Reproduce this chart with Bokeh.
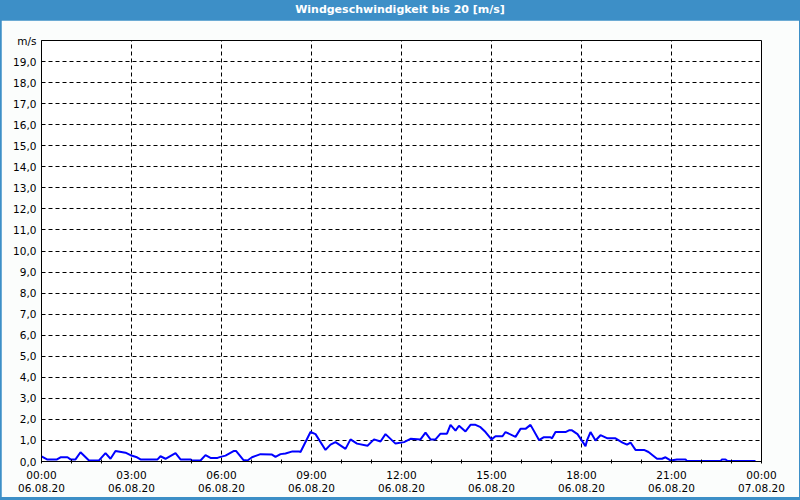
from datetime import datetime, timedelta
from bokeh.plotting import figure
from bokeh.models import (ColumnDataSource, FixedTicker, DatetimeTickFormatter,
                          Range1d, Div)
from bokeh.layouts import column
from bokeh.embed import file_html
from bokeh.resources import INLINE

TITLE = "Windgeschwindigkeit bis 20 [m/s]"
DAY = "2020-08-06"
times = ["00:00", "00:11", "00:31", "00:38", "00:52", "00:58", "01:08", "01:18", "01:35", "01:55",
         "02:08", "02:18", "02:28", "02:48", "02:58", "03:11", "03:18", "03:52", "03:58", "04:08",
         "04:28", "04:38", "04:58", "05:01", "05:18", "05:28", "05:38", "05:52", "05:58", "06:08",
         "06:25", "06:29", "06:44", "06:52", "07:01", "07:18", "07:41", "07:48", "07:58", "08:08",
         "08:22", "08:35", "08:38", "08:58", "09:08", "09:28", "09:38", "09:48", "10:08", "10:18",
         "10:31", "10:52", "11:05", "11:18", "11:28", "11:48", "12:05", "12:18", "12:38", "12:48",
         "12:58", "13:08", "13:18", "13:31", "13:38", "13:48", "13:55", "14:08", "14:18", "14:28",
         "14:38", "14:48", "15:00", "15:08", "15:22", "15:28", "15:48", "15:58", "16:08", "16:18",
         "16:35", "16:44", "16:58", "17:01", "17:08", "17:28", "17:35", "17:41", "17:52", "18:08",
         "18:11", "18:18", "18:28", "18:38", "18:52", "19:08", "19:22", "19:31", "19:38", "19:48",
         "20:05", "20:14", "20:31", "20:41", "20:48", "20:58", "21:11", "21:28", "21:31", "22:38",
         "22:41", "22:48", "22:52", "23:48"]
speed = [0.24, 0.10, 0.10, 0.20, 0.20, 0.10, 0.10, 0.44, 0.05, 0.05,
         0.40, 0.13, 0.50, 0.42, 0.30, 0.20, 0.10, 0.10, 0.25, 0.13,
         0.40, 0.10, 0.10, 0.05, 0.05, 0.30, 0.17, 0.17, 0.22, 0.28,
         0.50, 0.50, 0.07, 0.05, 0.20, 0.35, 0.33, 0.22, 0.35, 0.38,
         0.48, 0.48, 0.45, 1.40, 1.30, 0.55, 0.80, 0.92, 0.60, 1.05,
         0.85, 0.75, 1.05, 0.95, 1.30, 0.85, 0.92, 1.08, 1.05, 1.37,
         1.05, 1.05, 1.32, 1.32, 1.74, 1.47, 1.70, 1.43, 1.74, 1.74,
         1.63, 1.40, 1.05, 1.20, 1.20, 1.40, 1.17, 1.55, 1.55, 1.74,
         1.02, 1.15, 1.15, 1.10, 1.40, 1.40, 1.48, 1.48, 1.30, 0.73,
         1.00, 1.40, 1.00, 1.25, 1.10, 1.10, 0.90, 0.80, 0.90, 0.55,
         0.55, 0.45, 0.13, 0.13, 0.20, 0.05, 0.10, 0.10, 0.02, 0.02,
         0.10, 0.10, 0.02, 0.02]
y_ticks = list(range(0, 21))
y_labels = {i: f"{i},0" for i in range(0, 20)}
y_labels[20] = "m/s"

start = datetime.strptime(DAY, "%Y-%m-%d")
end = start + timedelta(days=1)
xs = [datetime.strptime(DAY + " " + t, "%Y-%m-%d %H:%M") for t in times]
src = ColumnDataSource(dict(x=xs, y=speed))

def ms(d):
    return (d - datetime(1970, 1, 1)).total_seconds() * 1000.0

major = [ms(start + timedelta(hours=h)) for h in range(0, 25, 3)]
minor = [ms(start + timedelta(hours=h)) for h in range(0, 25)]

FONT = "DejaVu Sans"
BLUE = "#3d8fc7"

p = figure(width=798, height=477, x_axis_type="datetime", output_backend="svg",
           toolbar_location=None, tools="",
           x_range=Range1d(start, end), y_range=Range1d(0, 20),
           min_border_left=40, min_border_right=38, min_border_top=20, min_border_bottom=36,
           background_fill_color="white", border_fill_color="#fbfdfc",
           outline_line_color="black", outline_line_width=1, outline_line_alpha=1.0,
           margin=(0, 1, 3, 1))

p.line("x", "y", source=src, line_color="#0000ff", line_width=2)

p.xaxis.ticker = FixedTicker(ticks=major, minor_ticks=minor)
fmt = "%H:%M\n%d.%m.%y"
p.xaxis.formatter = DatetimeTickFormatter(hours=fmt, hourmin=fmt, days=fmt, minutes=fmt,
                                          minsec=fmt, seconds=fmt)
p.yaxis.ticker = FixedTicker(ticks=y_ticks)
p.yaxis.major_label_overrides = y_labels

for ax in (p.xaxis[0], p.yaxis[0]):
    ax.axis_line_color = "black"
    ax.major_tick_out = 0
    ax.major_tick_in = 0
    ax.major_label_text_font = FONT
    ax.major_label_text_font_size = "10.5px"
    ax.major_label_text_color = "black"
p.xaxis.minor_tick_in = 2
p.xaxis.minor_tick_out = 2
p.xaxis.minor_tick_line_color = "black"
p.yaxis.minor_tick_line_color = None
p.xaxis.major_label_standoff = 5
p.xaxis.major_label_text_line_height = 1.15
p.yaxis.major_label_standoff = 5

for g in (p.xgrid[0], p.ygrid[0]):
    g.grid_line_color = "black"
    g.grid_line_dash = "4 3"
    g.grid_line_width = 1
    g.grid_line_alpha = 1.0

title = Div(text=TITLE, width=800, height=20, margin=0,
            styles={"background-color": BLUE, "color": "white", "font-weight": "bold",
                    "font-family": FONT, "font-size": "11px", "text-align": "center",
                    "line-height": "20px"})

layout = column(title, p, width=800, height=500, spacing=0, margin=0,
                styles={"background-color": BLUE})

open("out.html", "w").write(file_html(layout, INLINE))
